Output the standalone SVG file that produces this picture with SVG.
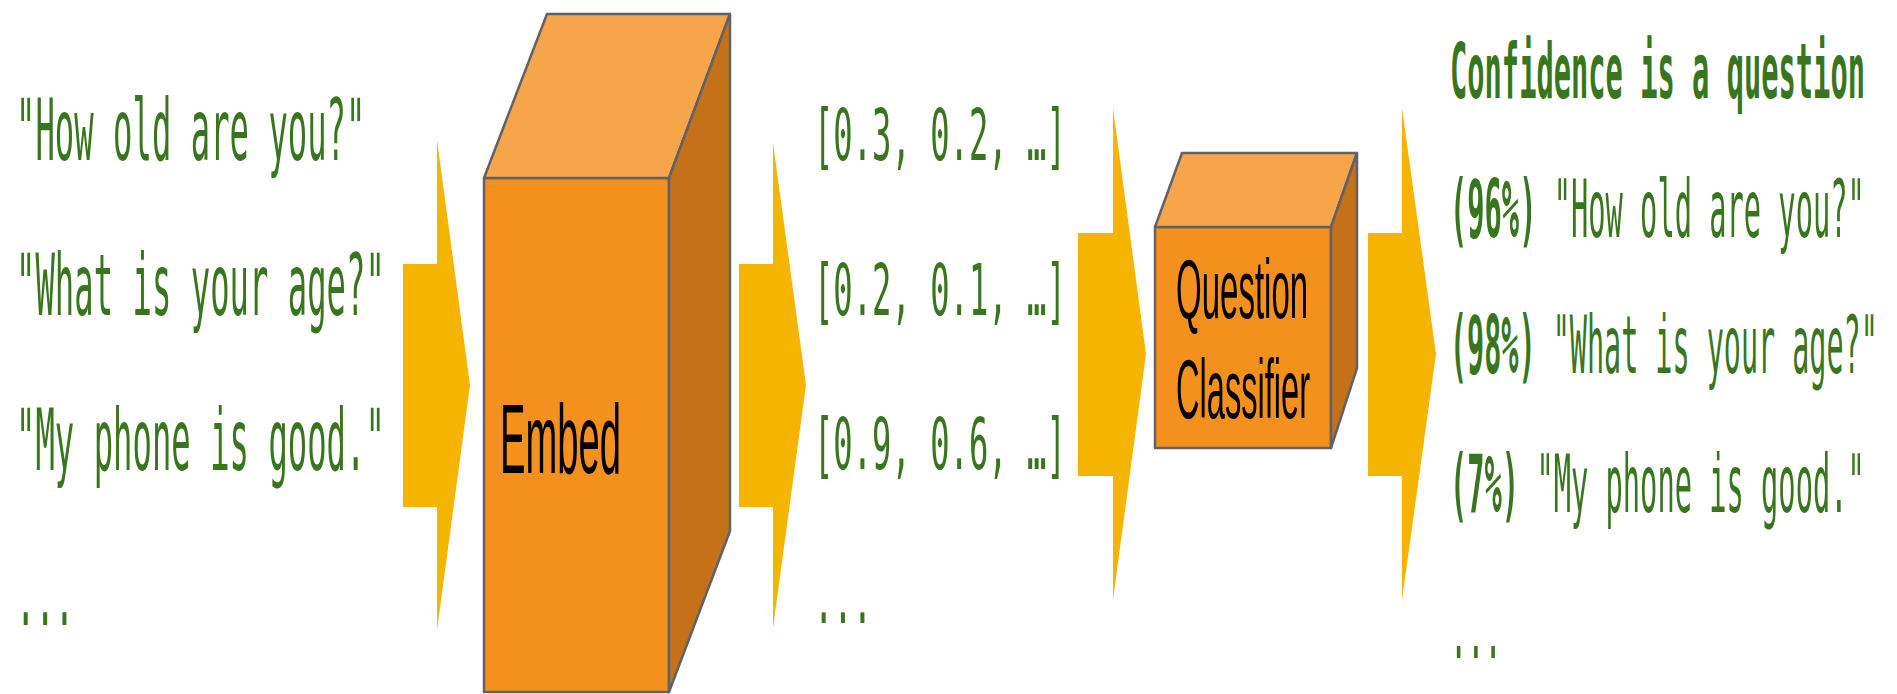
<svg xmlns="http://www.w3.org/2000/svg" width="1897" height="694" viewBox="0 0 1897 694">
<style>
.mono{font-family:"DejaVu Sans Mono","Liberation Mono",monospace;fill:#38761d}
.b{font-weight:bold}
.lbl{font-family:"Liberation Sans",Arial,sans-serif;fill:#000}
.arrow{fill:#f4b400}
.front{fill:#f4901e;stroke:#5f6368;stroke-width:2.5;stroke-linejoin:round}
.top{fill:#f6a54a;stroke:#5f6368;stroke-width:2.5;stroke-linejoin:round}
.side{fill:#c5711a;stroke:#5f6368;stroke-width:2.5;stroke-linejoin:round}
</style>
<rect width="1897" height="694" fill="#fff"/>
<g id="connectors">
<polygon class="arrow" points="403,264 437,264 437,140 470,385 437,630 437,507 403,507"/>
<polygon class="arrow" points="739,264 773,264 773,143 806,385 773,628 773,507 739,507"/>
<polygon class="arrow" points="1078,233 1113,233 1113,108 1146,354 1113,600 1113,476 1078,476"/>
<polygon class="arrow" points="1368,233 1402,233 1402,108 1436,354 1402,600 1402,476 1368,476"/>
</g>
<g id="inputs">
<text class="mono" font-size="86" transform="translate(16,160) scale(0.375,1)">"How old are you?"</text>
<text class="mono" font-size="86" transform="translate(16,315) scale(0.375,1)">"What is your age?"</text>
<text class="mono" font-size="86" transform="translate(16,470) scale(0.375,1)">"My phone is good."</text>
<text class="mono" font-size="86" transform="translate(16,625) scale(0.375,1)">...</text>
</g>
<g id="embed">
<polygon class="front" points="484,178 669,178 669,692 484,692"/>
<polygon class="top" points="484,178 547,14 730,14 669,178"/>
<polygon class="side" points="669,178 730,14 730,531 669,692"/>
<text class="lbl" font-size="98" transform="translate(500,473) scale(0.39,1)">Embed</text>
</g>
<g id="vectors">
<text class="mono" font-size="72" transform="translate(814,160) scale(0.447,1)">[0.3, 0.2, …]</text>
<text class="mono" font-size="72" transform="translate(814,315) scale(0.447,1)">[0.2, 0.1, …]</text>
<text class="mono" font-size="72" transform="translate(814,469) scale(0.447,1)">[0.9, 0.6, …]</text>
<text class="mono" font-size="72" transform="translate(814,623) scale(0.447,1)">...</text>
</g>
<g id="classifier">
<polygon class="front" points="1155,227 1331,227 1331,448 1155,448"/>
<polygon class="top" points="1155,227 1182,153 1357,153 1331,227"/>
<polygon class="side" points="1331,227 1357,153 1357,368 1331,448"/>
<text class="lbl" font-size="84" transform="translate(1176,318) scale(0.393,1)">Question</text>
<text class="lbl" font-size="84" transform="translate(1176,418) scale(0.388,1)">Classifier</text>
</g>
<g id="outputs">
<text class="mono b" font-size="77" transform="translate(1450,98) scale(0.373,1)">Confidence is a question</text>
<text class="mono" font-size="81" transform="translate(1450,237) scale(0.3545,1)"><tspan class="b">(96%)</tspan> "How old are you?"</text>
<text class="mono" font-size="81" transform="translate(1450,373) scale(0.351,1)"><tspan class="b">(98%)</tspan> "What is your age?"</text>
<text class="mono" font-size="81" transform="translate(1450,512) scale(0.3545,1)"><tspan class="b">(7%)</tspan> "My phone is good."</text>
<text class="mono" font-size="81" transform="translate(1450,658) scale(0.355,1)">...</text>
</g>
</svg>
